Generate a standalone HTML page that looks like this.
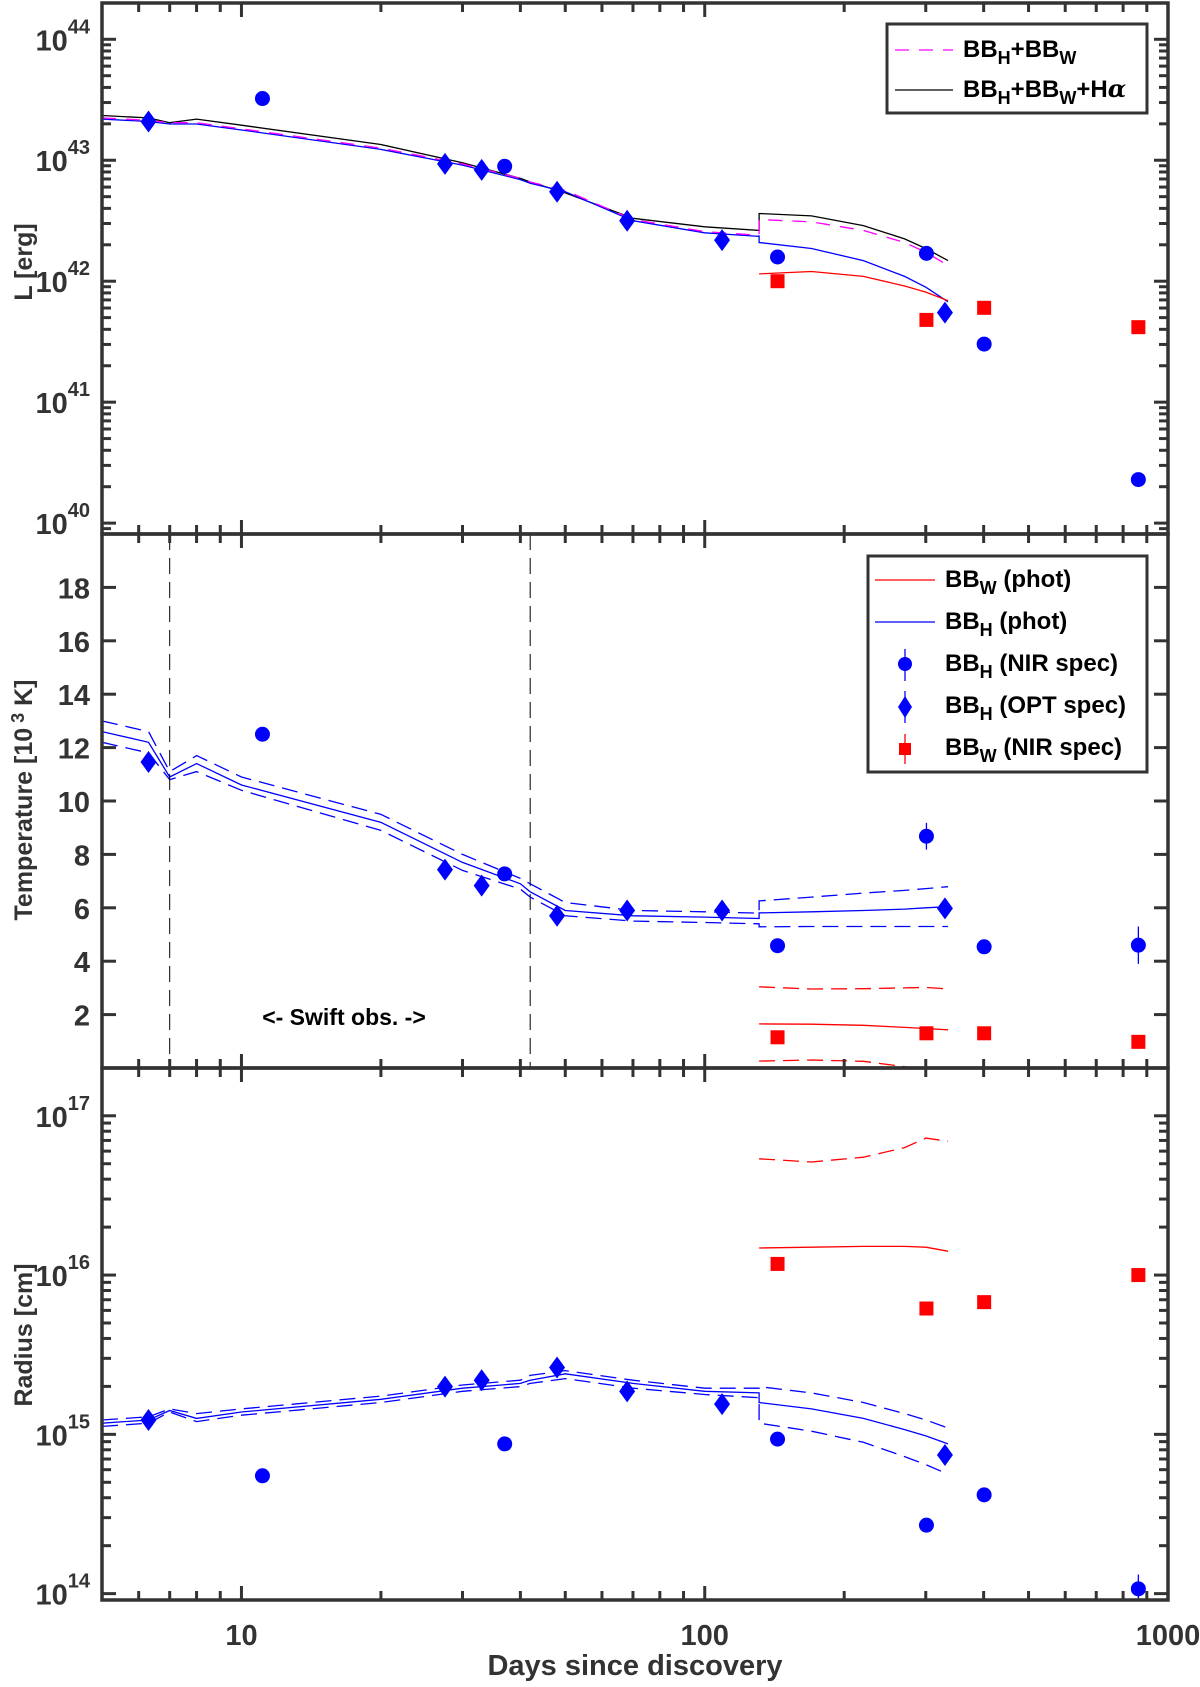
<!DOCTYPE html>
<html><head><meta charset="utf-8"><style>
body{margin:0;background:#fff}
svg text{font-family:"Liberation Sans",sans-serif;font-weight:bold}
</style></head><body>
<svg id="c" width="1200" height="1682" xmlns="http://www.w3.org/2000/svg"></svg>
<script>
// ---- data ----
const diaDays=[6.3,27.5,33,48,68,109,330];
const lumDia=[43.32,42.97,42.92,42.74,42.50,42.34,41.74];
const tempDia=[11.46,7.43,6.83,5.7,5.9,5.9,5.98];
const radDia=[15.09,15.30,15.34,15.42,15.27,15.19,14.87];
const cirDays=[11.1,37,143.6,301,401,863];
const lumCir=[43.51,42.95,42.20,42.23,41.48,40.36];
const tempCir=[12.5,7.27,4.58,8.68,4.54,4.6];
const radCir=[14.74,14.94,14.97,14.43,14.62,14.03];
const sqDays=[143.6,301,401,863];
const lumSq=[42.0,41.68,41.78,41.62];
const tempSq=[1.15,1.3,1.3,0.98];
const radSq=[16.07,15.79,15.83,16.0];
const earlyDays=[5,6.3,7,8,10,20,30,40,42,50,70,100,131];
const lumBlack=[43.37,43.35,43.31,43.34,43.29,43.13,42.98,42.85,42.82,42.73,42.52,42.45,42.42];
const lumPink=[43.35,43.33,43.31,43.31,43.26,43.10,42.97,42.85,42.82,42.75,42.51,42.41,42.38];
const tempMid=[12.6,12.2,10.9,11.4,10.6,9.2,7.7,6.9,6.6,5.9,5.7,5.65,5.6];
const tempUp=[13.0,12.6,11.1,11.7,10.9,9.5,8.0,7.1,6.9,6.2,5.9,5.85,5.8];
const tempLo=[12.2,11.8,10.8,11.1,10.4,8.9,7.4,6.7,6.4,5.7,5.5,5.45,5.4];
const radMid=[15.07,15.09,15.15,15.10,15.14,15.22,15.29,15.32,15.34,15.38,15.32,15.27,15.26];
const radUp=[15.09,15.11,15.16,15.13,15.16,15.24,15.31,15.34,15.37,15.40,15.34,15.29,15.29];
const radLo=[15.05,15.07,15.14,15.08,15.12,15.20,15.27,15.30,15.32,15.35,15.29,15.25,15.23];
const lateDays=[131,170,220,270,300,335];
const lumBlackL=[42.56,42.54,42.46,42.35,42.27,42.17];
const lumPinkL=[42.51,42.49,42.42,42.32,42.24,42.13];
const lumBlueL=[42.32,42.27,42.17,42.04,41.95,41.83];
const lumRedL=[42.06,42.08,42.04,41.96,41.91,41.84];
const tempBlueL=[5.81,5.85,5.9,5.95,6.0,6.04];
const tempBlueUpL=[6.26,6.4,6.55,6.65,6.72,6.79];
const tempBlueLoL=[5.29,5.3,5.3,5.3,5.3,5.3];
const tempRedL=[1.65,1.64,1.6,1.52,1.48,1.43];
const tempRedUpL=[3.04,2.96,2.97,3.0,3.02,2.96];
const tempRedLoL=[0.26,0.3,0.25,0.05,-0.1,-0.3];
const radBlueL=[15.20,15.16,15.10,15.03,14.99,14.94];
const radBlueUpL=[15.30,15.26,15.20,15.13,15.09,15.04];
const radBlueLoL=[15.07,15.02,14.95,14.86,14.81,14.75];
const radRedL=[16.17,16.175,16.18,16.18,16.175,16.15];
const radRedUpL=[16.73,16.71,16.74,16.80,16.86,16.84];
const xTickLabels=["10","100","1000"];
// ---- layout ----
const NS="http://www.w3.org/2000/svg",S=document.getElementById('c');
const X0=102,X1=1168,LX0=Math.log10(5),LX1=3;
const px=d=>X0+(Math.log10(d)-LX0)/(LX1-LX0)*(X1-X0);
const P=[{t:3,b:534,lo:39.91,hi:44.3},{t:534,b:1068,lo:0,hi:20},{t:1068,b:1600,lo:13.96,hi:17.30}];
const py=(p,v)=>P[p].b-(v-P[p].lo)/(P[p].hi-P[p].lo)*(P[p].b-P[p].t);
function el(tag,a,parent){const e=document.createElementNS(NS,tag);for(const k in a)e.setAttribute(k,a[k]);(parent||S).appendChild(e);return e;}
function join(a,b){return a.concat(b);}
function circ(p,xs,ys,name){xs.forEach((x,i)=>{const e=el('circle',{cx:px(x),cy:py(p,ys[i]),r:7.5,fill:'#0000ff'});
  
  });}
function dia(p,xs,ys,name){xs.forEach((x,i)=>{const cx=px(x),cy=py(p,ys[i]);const e=el('polygon',{points:`${cx},${cy-11} ${cx+8},${cy} ${cx},${cy+11} ${cx-8},${cy}`,fill:'#0000ff'});
  
  });}
function sq(p,xs,ys,name){xs.forEach((x,i)=>{const cx=px(x),cy=py(p,ys[i]);const e=el('rect',{x:cx-7,y:cy-7,width:14,height:14,fill:'#ff0000'});
  
  });}
const defs=el('defs',{});
P.forEach((q,i)=>{const cp=el('clipPath',{id:'cp'+i},defs);el('rect',{x:X0,y:q.t,width:X1-X0,height:q.b-q.t},cp);});
function L(p,xs,ys,col,dash,name,gp){const d=xs.map((x,i)=>(i?'L':'M')+px(x).toFixed(1)+','+py(p,ys[i]).toFixed(1)).join('');
  const e=el('path',{d:d,fill:'none',stroke:col,'stroke-width':1.3,'stroke-dasharray':dash||'none'},gp);
  
  }
const g0=el('g',{'clip-path':'url(#cp0)'}),g1=el('g',{'clip-path':'url(#cp1)'}),g2=el('g',{'clip-path':'url(#cp2)'});
// ---- panel 1 ----
L(0,join(earlyDays,lateDays),join(lumBlack,lumBlackL),'#000',null,'lum-bbh-bbw-halpha-line',g0);
L(0,earlyDays,lumPink.map(v=>v-0.01),'#0000ff',null,'lum-bbh-line-early',g0);
L(0,join(earlyDays,lateDays),join(lumPink,lumPinkL),'#ff00ff','14 10','lum-bbh-bbw-line',g0);
L(0,[131,...lateDays],[42.38,...lumBlueL],'#0000ff',null,'lum-bbh-line',g0);
L(0,lateDays,lumRedL,'#ff0000',null,'lum-bbw-line',g0);
circ(0,cirDays,lumCir,'lum-nir-point');dia(0,diaDays,lumDia,'lum-opt-point');sq(0,sqDays,lumSq,'lum-bbw-point');
// ---- panel 2 ----
[7,42].forEach(d=>{const e=el('line',{x1:px(d),x2:px(d),y1:P[1].t,y2:P[1].b,stroke:'#000','stroke-width':1,'stroke-dasharray':'16 8'});
  
  });
L(1,join(earlyDays,lateDays),join(tempMid,tempBlueL),'#0000ff',null,'temp-bbh-line',g1);
L(1,join(earlyDays,lateDays),join(tempUp,tempBlueUpL),'#0000ff','16 8','temp-bbh-upper',g1);
L(1,join(earlyDays,lateDays),join(tempLo,tempBlueLoL),'#0000ff','16 8','temp-bbh-lower',g1);
L(1,lateDays,tempRedL,'#ff0000',null,'temp-bbw-line',g1);
L(1,lateDays,tempRedUpL,'#ff0000','16 8','temp-bbw-upper',g1);
L(1,lateDays,tempRedLoL,'#ff0000','16 8','temp-bbw-lower',g1);
[[301,8.68,0.5],[863,4.6,0.7]].forEach(a=>{el('line',{x1:px(a[0]),x2:px(a[0]),y1:py(1,a[1]+a[2]),y2:py(1,a[1]-a[2]),stroke:'#0000ff','stroke-width':1.3});});
circ(1,cirDays,tempCir,'temp-nir-point');dia(1,diaDays,tempDia,'temp-opt-point');sq(1,sqDays,tempSq,'temp-bbw-point');
let t=el('text',{x:344,y:1025,'font-size':23,fill:'#000','text-anchor':'middle'});t.textContent='<- Swift obs. ->';


// ---- panel 3 ----
L(2,join(earlyDays,lateDays),join(radMid,radBlueL),'#0000ff',null,'rad-bbh-line',g2);
L(2,join(earlyDays,lateDays),join(radUp,radBlueUpL),'#0000ff','16 8','rad-bbh-upper',g2);
L(2,join(earlyDays,lateDays),join(radLo,radBlueLoL),'#0000ff','16 8','rad-bbh-lower',g2);
L(2,lateDays,radRedL,'#ff0000',null,'rad-bbw-line',g2);
L(2,lateDays,radRedUpL,'#ff0000','16 8','rad-bbw-upper',g2);
el('line',{x1:px(863),x2:px(863),y1:py(2,14.12),y2:py(2,13.96),stroke:'#0000ff','stroke-width':1.3});
circ(2,cirDays,radCir,'rad-nir-point');dia(2,diaDays,radDia,'rad-opt-point');sq(2,sqDays,radSq,'rad-bbw-point');
// ---- axes ----
const AX='#333';
P.forEach((q,i)=>{
  const r=el('rect',{x:X0,y:q.t,width:X1-X0,height:q.b-q.t,fill:'none',stroke:AX,'stroke-width':3.5});
  
  
  for(let dec=1;dec<=3;dec++)for(let m=1;m<=9;m++){const d=m*Math.pow(10,dec-1);if(d<5||d>1000)continue;const xx=px(d);const len=m==1?14:9;
    el('line',{x1:xx,x2:xx,y1:q.b,y2:q.b-len,stroke:AX,'stroke-width':3});el('line',{x1:xx,x2:xx,y1:q.t,y2:q.t+len,stroke:AX,'stroke-width':3});}
});
function logTicks(p,a,b,lab){for(let e=a;e<=b;e++){for(let m=1;m<=9;m++){const v=e+Math.log10(m);if(v<P[p].lo||v>P[p].hi)continue;const yy=py(p,v);const len=m==1?14:9;
  el('line',{x1:X0,x2:X0+len,y1:yy,y2:yy,stroke:AX,'stroke-width':3});el('line',{x1:X1,x2:X1-len,y1:yy,y2:yy,stroke:AX,'stroke-width':3});}
  if(e>=lab[0]&&e<=lab[1]){const yy=py(p,e);const tx=el('text',{x:90,y:yy+11,'font-size':29,fill:AX,'text-anchor':'end'});
    tx.innerHTML='10<tspan dy="-17" font-size="20">'+e+'</tspan>';
    
    }}}
logTicks(0,39,44,[40,44]);logTicks(2,13,17,[14,17]);
for(let v=2;v<=18;v+=2){const yy=py(1,v);el('line',{x1:X0,x2:X0+14,y1:yy,y2:yy,stroke:AX,'stroke-width':3});el('line',{x1:X1,x2:X1-14,y1:yy,y2:yy,stroke:AX,'stroke-width':3});
  const tx=el('text',{x:90,y:yy+11,'font-size':29,fill:AX,'text-anchor':'end'});tx.textContent=v;
  
  }
xTickLabels.forEach(s=>{const tx=el('text',{x:px(+s),y:1645,'font-size':29,fill:AX,'text-anchor':'middle'});tx.textContent=s;
  
  });
function ylab(txt,yc,name){const tx=el('text',{x:0,y:0,'font-size':25,fill:AX,'text-anchor':'middle',transform:`translate(32,${yc}) rotate(-90)`});tx.innerHTML=txt;
  
  }
ylab('L [erg]',262,'y-axis-title-luminosity');
ylab('Temperature [10<tspan dy="-8" font-size="18"> 3</tspan><tspan dy="8"> K]</tspan>',800,'y-axis-title-temperature');
ylab('Radius [cm]',1335,'y-axis-title-radius');
let xt=el('text',{x:635,y:1675,'font-size':29,fill:AX,'text-anchor':'middle'});xt.textContent='Days since discovery';


// ---- legends ----
function box(x,y,w,h,name){const r=el('rect',{x:x,y:y,width:w,height:h,fill:'#fff',stroke:AX,'stroke-width':3});
  
  }
function ltext(x,y,html){const tx=el('text',{x:x,y:y,'font-size':24,fill:'#000'});tx.innerHTML=html;
  
  }
const sub=s=>`<tspan dy="7" font-size="18">${s}</tspan><tspan dy="-7">`;
box(887,24,260,89,'legend-luminosity');
el('line',{x1:895,x2:953,y1:50,y2:50,stroke:'#ff00ff','stroke-width':1.3,'stroke-dasharray':'14 10'});
el('line',{x1:895,x2:953,y1:90,y2:90,stroke:'#000','stroke-width':1.3});
ltext(963,57,'BB'+sub('H')+'+BB</tspan>'+sub('W')+'</tspan>');
ltext(963,97,'BB'+sub('H')+'+BB</tspan>'+sub('W')+'+H<tspan font-family="DejaVu Serif" font-style="italic">α</tspan></tspan>');
box(868,556,279,216,'legend-phot-spec');
el('line',{x1:875,x2:935,y1:580,y2:580,stroke:'#ff0000','stroke-width':1.3});
el('line',{x1:875,x2:935,y1:622,y2:622,stroke:'#0000ff','stroke-width':1.3});
el('line',{x1:905,x2:905,y1:649,y2:681,stroke:'#0000ff','stroke-width':1.3});el('circle',{cx:905,cy:664,r:7,fill:'#0000ff'});
el('line',{x1:905,x2:905,y1:691,y2:723,stroke:'#0000ff','stroke-width':1.3});el('polygon',{points:'905,696 912,707 905,718 898,707',fill:'#0000ff'});
el('line',{x1:905,x2:905,y1:734,y2:764,stroke:'#ff0000','stroke-width':1.3});el('rect',{x:899,y:743,width:12,height:12,fill:'#ff0000'});
ltext(945,587,'BB'+sub('W')+' (phot)</tspan>');
ltext(945,629,'BB'+sub('H')+' (phot)</tspan>');
ltext(945,671,'BB'+sub('H')+' (NIR spec)</tspan>');
ltext(945,713,'BB'+sub('H')+' (OPT spec)</tspan>');
ltext(945,755,'BB'+sub('W')+' (NIR spec)</tspan>');
</script>
</body></html>
